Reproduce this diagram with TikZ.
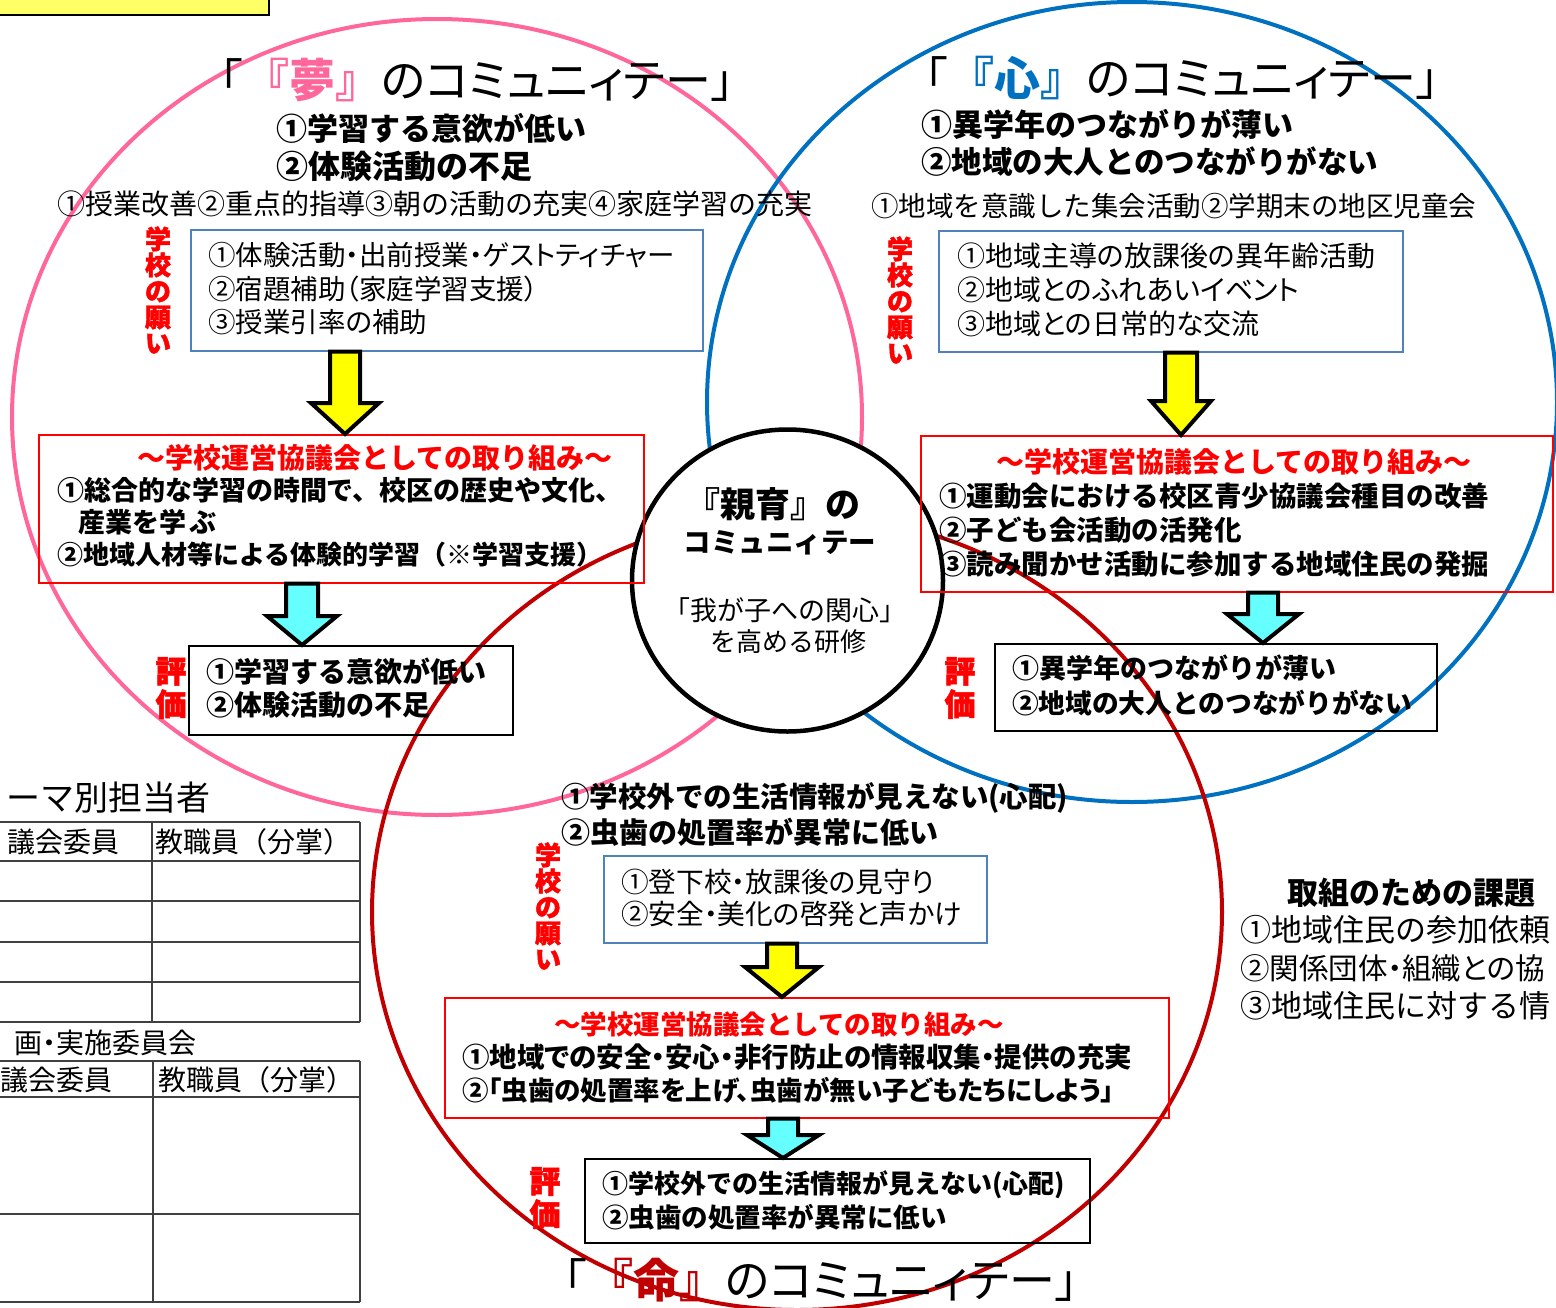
\documentclass[tikz,border=0pt]{standalone}
\usepackage{fontspec}
\setmainfont{Noto Sans CJK JP}
\newfontfamily\jpp[RawFeature=+palt]{Noto Sans CJK JP}
\newfontfamily\jpheavy[BoldFeatures={FakeBold=1.6}]{Noto Sans CJK JP}
\usetikzlibrary{calc,shapes.geometric}
\definecolor{pinkc}{RGB}{255,102,153}
\definecolor{bluec}{RGB}{0,112,192}
\definecolor{redc}{RGB}{192,0,0}
\definecolor{boxblue}{RGB}{79,129,189}
\definecolor{arrowyellow}{RGB}{255,255,0}
\definecolor{arrowcyan}{RGB}{102,255,255}
\definecolor{baryellow}{RGB}{255,255,102}
\definecolor{gridgray}{RGB}{64,64,64}
\newcommand\fs[1]{\fontsize{#1}{#1}\selectfont}
\newcommand\blockarrow[6]{%
  \draw[arrowline, fill=#1] let \p1=#2, \p2=#3 in
    (\x1-#4pt,\y1) -- (\x1+#4pt,\y1) -- (\x1+#4pt,\y2+#6pt) -- (\x1+#5pt,\y2+#6pt)
    -- (\x1,\y2) -- (\x1-#5pt,\y2+#6pt) -- (\x1-#4pt,\y2+#6pt) -- cycle;}
\newcommand\commtitle[2]{\fs{46}「\textcolor{#1}{\bfseries 『#2』}{\jpp のコミュニィテー」}}
\begin{document}
\begin{tikzpicture}[x=1pt,y=-1pt,
  txt/.style={inner sep=0pt, outer sep=0pt},
  lt/.style={txt, anchor=west},
  rt/.style={txt, anchor=east},
  ring/.style={ellipse, line width=4pt, inner sep=0pt, minimum width=850pt},
  bluebox/.style={draw=boxblue, line width=1.6pt, anchor=north west, inner sep=0pt},
  redbox/.style={draw=red, line width=1.6pt, anchor=north west, inner sep=0pt},
  blackbox/.style={draw=black, line width=1.6pt, anchor=north west, inner sep=0pt},
  wish/.style={txt, align=center, text=red, font=\jpheavy\fs{26}\bfseries},
  evalmark/.style={txt, align=center, text=red, font=\jpheavy\fontsize{31}{33}\selectfont\bfseries},
  arrowline/.style={draw=black, line width=4pt, line join=miter},
  grid/.style={draw=gridgray, line width=1.5pt}
]
\useasboundingbox (0,0) rectangle (1556,1307);
\clip (0,0) rectangle (1556,1307);

% top bar
\node[draw=black, fill=baryellow, line width=2pt, anchor=south east, minimum width=290pt, minimum height=40pt, inner sep=0pt] (topbar) at (270,16) {};

% coloured rings
\node[ring, draw=pinkc, minimum height=796pt] (ringY) at (437,417) {};
\node[ring, draw=bluec, minimum height=800pt] (ringK) at (1132,402) {};
\node[ring, draw=redc, minimum height=796pt] (ringI) at (797,912) {};

% centre ring
\node[ellipse, draw=black, fill=white, line width=4.5pt, inner sep=0pt, minimum width=311pt, minimum height=302pt] (ringC) at (787.5,580.5) {};
\node[txt] (c1) at (773,504) {\fs{35}\bfseries 『親育』の};
\node[txt] (c2) at (780,543) {\fs{27.5}\bfseries コミュニィテー};
\node[txt] (c3) at (785,610) {\fs{27}「我が子への関心」};
\node[txt] (c4) at (788,642) {\fs{26}を高める研修};

% ===== 夢 =====
\node[lt] (tY) at (197,80) {\commtitle{pinkc}{夢}};
\node[lt] (y1) at (276,128) {\fs{31}\bfseries ①学習する意欲が低い};
\node[lt] (y2) at (276,166) {\fs{32}\bfseries ②体験活動の不足};
\node[lt] (y3) at (57,204) {\fs{28}①授業改善②重点的指導③朝の活動の充実④家庭学習の充実};
\node[wish] (yn) at (158,290) {学\\校\\の\\願\\い};
\node[bluebox, minimum width=512pt, minimum height=121pt] (yb) at (190,229) {};
\node[lt] (yb1) at (208,255) {\jpp\fs{27.5}①体験活動・出前授業・ゲストティチャー};
\node[lt] (yb2) at (208,289) {\jpp\fs{27.5}②宿題補助（家庭学習支援）};
\node[lt] (yb3) at (208,322) {\jpp\fs{27.5}③授業引率の補助};
\node[redbox, minimum width=605pt, minimum height=148pt] (yr) at (38,434) {};
\node[txt] (yr0) at (375,458) {\fs{28}\bfseries\color{red}～学校運営協議会としての取り組み～};
\node[lt] (yr1) at (57,490) {\fs{27}\bfseries ①総合的な学習の時間で、校区の歴史や文化、};
\node[lt] (yr2) at (78,522) {\fs{27}\bfseries 産業を学\hspace{4pt}ぶ};
\node[lt] (yr3) at (57,555) {\fs{26}\bfseries ②地域人材等による体験的学習（※学習支援）};
\node[evalmark] (yh) at (171,688) {評\\価};
\node[blackbox, minimum width=324pt, minimum height=89pt] (ye) at (188,645) {};
\node[lt] (ye1) at (206,672) {\fs{28}\bfseries ①学習する意欲が低い};
\node[lt] (ye2) at (206,705) {\fs{28}\bfseries ②体験活動の不足};
\coordinate (yax) at (345,0);
\coordinate (ycx) at (302,0);
\blockarrow{arrowyellow}{(yb.south -| yax)}{(yr.north -| yax)}{15}{34}{31}
\blockarrow{arrowcyan}{(yr.south -| ycx)}{(ye.north -| ycx)}{16}{35}{29}

% ===== 心 =====
\node[lt] (tK) at (902,78) {\commtitle{bluec}{心}};
\node[lt] (k1) at (921,124) {\fs{31}\bfseries ①異学年のつながりが薄い};
\node[lt] (k2) at (921,162) {\fs{30.5}\bfseries ②地域の大人とのつながりがない};
\node[lt] (k3) at (871,206) {\fs{27.5}①地域を意識した集会活動②学期末の地区児童会};
\node[wish] (kn) at (900,300) {学\\校\\の\\願\\い};
\node[bluebox, minimum width=464pt, minimum height=121pt] (kb) at (938,230) {};
\node[lt] (kb1) at (957,256) {\jpp\fs{28}①地域主導の放課後の異年齢活動};
\node[lt] (kb2) at (957,290) {\jpp\fs{28}②地域とのふれあいイベント};
\node[lt] (kb3) at (957,324) {\jpp\fs{28}③地域との日常的な交流};
\node[redbox, minimum width=632pt, minimum height=156pt] (kr) at (920,435) {};
\node[txt] (kr0) at (1234,462) {\fs{28}\bfseries\color{red}～学校運営協議会としての取り組み～};
\node[lt] (kr1) at (939,496) {\fs{27.5}\bfseries ①運動会における校区青少協議会種目の改善};
\node[lt] (kr2) at (939,530) {\fs{27.5}\bfseries ②子ども会活動の活発化};
\node[lt] (kr3) at (939,564) {\fs{27.5}\bfseries ③読み聞かせ活動に参加する地域住民の発掘};
\node[evalmark] (kh) at (960,688) {評\\価};
\node[blackbox, minimum width=442pt, minimum height=87pt] (ke) at (994,643) {};
\node[lt] (ke1) at (1012,668) {\fs{27}\bfseries ①異学年のつながりが薄い};
\node[lt] (ke2) at (1012,703) {\fs{26.7}\bfseries ②地域の大人とのつながりがない};
\coordinate (kax) at (1181,0);
\coordinate (kcx) at (1263,0);
\blockarrow{arrowyellow}{(kb.south -| kax)}{(kr.north -| kax)}{16}{30}{34}
\blockarrow{arrowcyan}{(kr.south -| kcx)}{(ke.north -| kcx)}{15}{36}{29}

% ===== 命 =====
\node[lt] (i1) at (561,798) {\fs{28.5}\bfseries ①学校外での生活情報が見えない(心配)};
\node[lt] (i2) at (561,832) {\fs{29}\bfseries ②虫歯の処置率が異常に低い};
\node[wish] (in) at (548,906) {学\\校\\の\\願\\い};
\node[bluebox, minimum width=383pt, minimum height=87pt] (ib) at (603,855) {};
\node[lt] (ib1) at (621,882) {\jpp\fs{27.7}①登下校・放課後の見守り};
\node[lt] (ib2) at (621,914) {\jpp\fs{27.7}②安全・美化の啓発と声かけ};
\node[redbox, minimum width=724pt, minimum height=120pt] (ir) at (444,997) {};
\node[txt] (ir0) at (779,1024) {\fs{26.5}\bfseries\color{red}～学校運営協議会としての取り組み～};
\node[lt] (ir1) at (462,1057) {\jpp\fs{27.5}\bfseries ①地域での安全・安心・非行防止の情報収集・提供の充実};
\node[lt] (ir2) at (462,1090) {\jpp\fs{26.5}\bfseries ②「虫歯の処置率を上げ、虫歯が無い子どもたちにしよう」};
\node[evalmark] (ih) at (545,1198) {評\\価};
\node[blackbox, minimum width=505pt, minimum height=84pt] (ie) at (584,1158) {};
\node[lt] (ie1) at (602,1185) {\fs{26}\bfseries ①学校外での生活情報が見えない(心配)};
\node[lt] (ie2) at (602,1217) {\fs{26.5}\bfseries ②虫歯の処置率が異常に低い};
\node[lt] (tI) at (541,1280) {\commtitle{redc}{命}};
\coordinate (iax) at (782,0);
\coordinate (icx) at (783,0);
\blockarrow{arrowyellow}{(ib.south -| iax)}{(ir.north -| iax)}{15}{37}{30}
\blockarrow{arrowcyan}{(ir.south -| icx)}{(ie.north -| icx)}{15}{36}{23}

% ===== left tables =====
\node[rt] (th) at (210,798) {\fs{34}ーマ別担当者};
\foreach \yy in {822,861,901,942,982,1022} \draw[grid] (-5,\yy) -- (360,\yy);
\draw[grid] (152,822) -- (152,1022);
\draw[grid] (360,822) -- (360,1022);
\node[rt] (t1a) at (120,842) {\fs{28}議会委員};
\node[lt] (t1b) at (155,842) {\fs{28}教職員（分掌）};
\node[rt] (t2h) at (196,1043) {\jpp\fs{28}画・実施委員会};
\foreach \yy in {1061,1097,1214,1302} \draw[grid] (-5,\yy) -- (360,\yy);
\draw[grid] (153,1061) -- (153,1302);
\draw[grid] (360,1061) -- (360,1302);
\node[rt] (t2a) at (113,1080) {\fs{28}議会委員};
\node[lt] (t2b) at (158,1080) {\fs{28}教職員（分掌）};

% ===== right: issues =====
\node[txt] (kd0) at (1411,893) {\fs{31}\bfseries 取組のための課題};
\node[lt] (kd1) at (1240,930) {\fs{31}①地域住民の参加依頼};
\node[lt] (kd2) at (1240,968) {\jpp\fs{29.5}②関係団体・組織との協};
\node[lt] (kd3) at (1240,1006) {\fs{31}③地域住民に対する情};
\end{tikzpicture}
\end{document}
